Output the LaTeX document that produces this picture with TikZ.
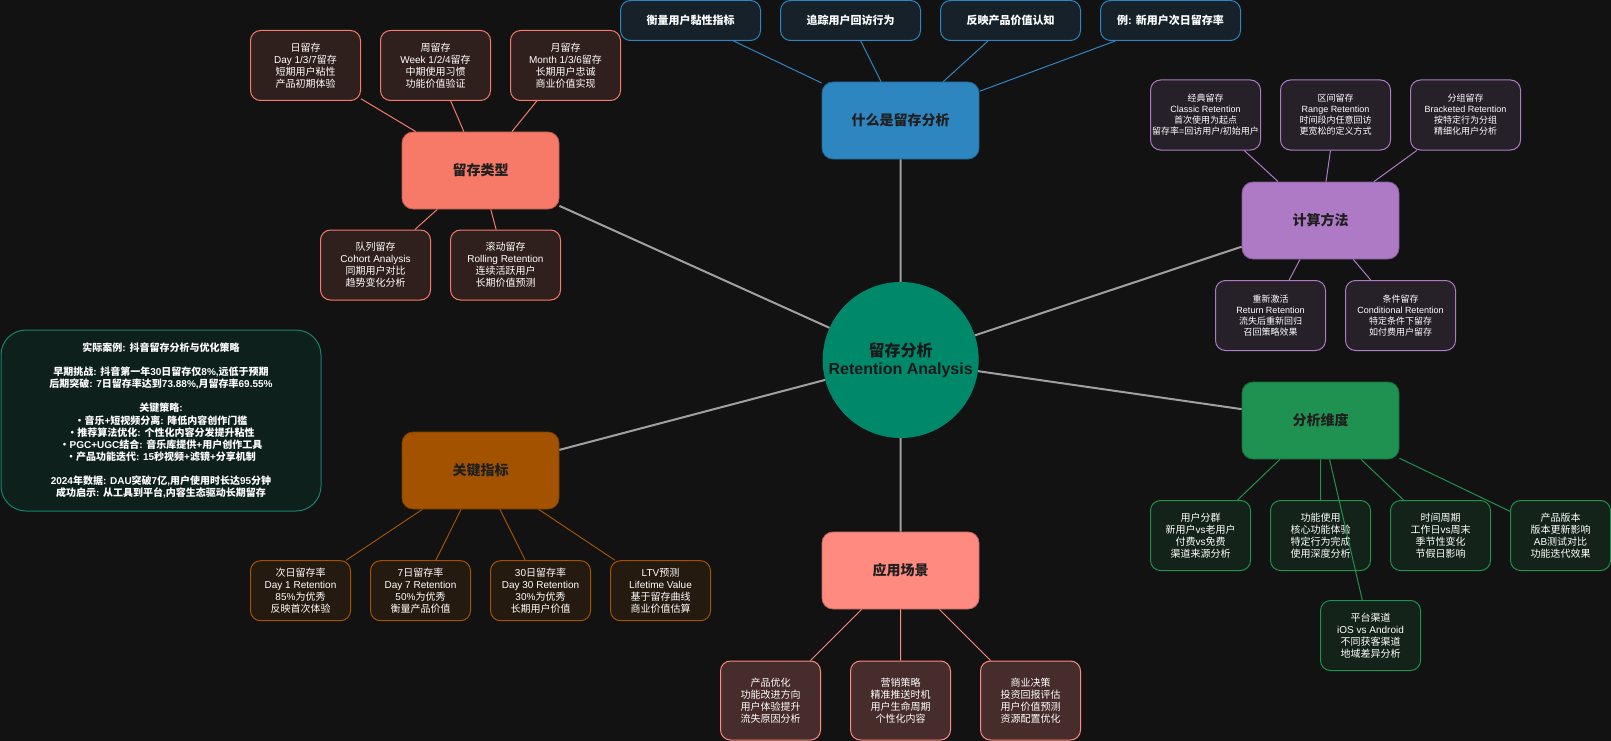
\documentclass[tikz,border=0pt]{standalone}
\usepackage{fontspec}
\setmainfont{Liberation Sans}
\newfontfamily\hanfont{Noto Sans CJK SC}
\XeTeXinterchartokenstate=1
\newXeTeXintercharclass\hanclass
\count255="3000
\loop
  \XeTeXcharclass\count255=\hanclass
  \ifnum\count255<"9FFF \advance\count255 by 1 \repeat
\count255="FF00
\loop
  \XeTeXcharclass\count255=\hanclass
  \ifnum\count255<"FFEF \advance\count255 by 1 \repeat
\XeTeXinterchartoks 0 \hanclass = {\begingroup\hanfont}
\XeTeXinterchartoks 4095 \hanclass = {\begingroup\hanfont}
\XeTeXinterchartoks \hanclass 0 = {\endgroup}
\XeTeXinterchartoks \hanclass 4095 = {\endgroup}
\usepackage{tikz}
\usetikzlibrary{positioning}
\definecolor{canvas}{HTML}{121212}
\definecolor{spokegray}{HTML}{A0A0A0}
\definecolor{rethub}{HTML}{00886B}
\definecolor{rettypes}{HTML}{F77A68}
\definecolor{retwhat}{HTML}{2E86C1}
\definecolor{retcalc}{HTML}{AF7AC5}
\definecolor{retdims}{HTML}{1F9150}
\definecolor{retmetric}{HTML}{A35300}
\definecolor{retapps}{HTML}{FF8A80}
\definecolor{retcase}{HTML}{13846C}
\definecolor{casefill}{HTML}{0E201C}

\begin{document}
\begin{tikzpicture}[
    x=1pt, y=-1pt,
    node distance=19pt,
    hub/.style={circle, fill=rethub, minimum size=156pt, inner sep=0pt, align=center, text=black!90, font=\bfseries\fontsize{16}{18.5}\selectfont},
    topic/.style={rectangle, rounded corners=11pt, fill=#1, draw=#1!75!black, line width=0.8pt, minimum width=157pt, minimum height=77pt, text=black!88, font=\bfseries\fontsize{14}{16}\selectfont},
    leaf/.style={rectangle, rounded corners=10pt, draw=#1, fill=#1!13!canvas, line width=1pt, minimum width=100pt, minimum height=70pt, inner xsep=1pt, align=center, text=white, font=\fontsize{10}{11.9}\selectfont},
    small/.style={font=\fontsize{9}{11}\selectfont},
    casebox/.style={rectangle, rounded corners=25pt, draw=retcase, fill=casefill, line width=1pt, minimum width=320pt, minimum height=181pt, align=center, text=white, font=\bfseries\fontsize{10}{12.1}\selectfont},
    spoke/.style={draw=spokegray, line width=2pt},
    link/.style={draw=#1, line width=1pt}
]
\fill[canvas] (0,0) rectangle (1611,741);
\useasboundingbox (0,0) rectangle (1611,741);

\node[hub] (hub) at (900.7,360) {留存分析\\Retention Analysis};
\node[topic=rettypes] (types) at (480.5,170.5) {留存类型};
\node[topic=retwhat] (what) at (900.5,120.5) {什么是留存分析};
\node[topic=retcalc] (calc) at (1320.5,220.5) {计算方法};
\node[topic=retdims] (dims) at (1320.5,420.5) {分析维度};
\node[topic=retapps] (apps) at (900.5,570.5) {应用场景};
\node[topic=retmetric] (metrics) at (480.5,470.5) {关键指标};

\node[leaf=rettypes, minimum width=110pt] (day) at (305.5,65.5) {日留存\\Day 1/3/7留存\\短期用户粘性\\产品初期体验};
\node[leaf=rettypes, minimum width=110pt, right=of day] (week) {周留存\\Week 1/2/4留存\\中期使用习惯\\功能价值验证};
\node[leaf=rettypes, minimum width=110pt, right=of week] (month) {月留存\\Month 1/3/6留存\\长期用户忠诚\\商业价值实现};
\node[leaf=rettypes, minimum width=110pt] (cohort) at (375.5,265) {队列留存\\Cohort Analysis\\同期用户对比\\趋势变化分析};
\node[leaf=rettypes, minimum width=110pt, right=of cohort] (rolling) {滚动留存\\Rolling Retention\\连续活跃用户\\长期价值预测};

\node[leaf=retwhat, minimum width=140pt, minimum height=40pt, font=\bfseries\fontsize{11}{13}\selectfont] (gauge) at (690.5,20.5) {衡量用户黏性指标};
\node[leaf=retwhat, minimum width=140pt, minimum height=40pt, font=\bfseries\fontsize{11}{13}\selectfont, right=of gauge] (track) {追踪用户回访行为};
\node[leaf=retwhat, minimum width=140pt, minimum height=40pt, font=\bfseries\fontsize{11}{13}\selectfont, right=of track] (reflect) {反映产品价值认知};
\node[leaf=retwhat, minimum width=140pt, minimum height=40pt, font=\bfseries\fontsize{11}{13}\selectfont, right=of reflect] (sample) {例: 新用户次日留存率};

\node[leaf=retcalc, small, minimum width=110pt] (classic) at (1205.5,115) {经典留存\\Classic Retention\\首次使用为起点\\留存率=回访用户/初始用户};
\node[leaf=retcalc, small, minimum width=110pt, right=of classic] (range) {区间留存\\Range Retention\\时间段内任意回访\\更宽松的定义方式};
\node[leaf=retcalc, small, minimum width=110pt, right=of range] (bracket) {分组留存\\Bracketed Retention\\按特定行为分组\\精细化用户分析};
\node[leaf=retcalc, small, minimum width=110pt] (comeback) at (1270.5,315.5) {重新激活\\Return Retention\\流失后重新回归\\召回策略效果};
\node[leaf=retcalc, small, minimum width=110pt, right=of comeback] (cond) {条件留存\\Conditional Retention\\特定条件下留存\\如付费用户留存};

\node[leaf=retdims] (segment) at (1200.5,535.5) {用户分群\\新用户vs老用户\\付费vs免费\\渠道来源分析};
\node[leaf=retdims, right=of segment] (feature) {功能使用\\核心功能体验\\特定行为完成\\使用深度分析};
\node[leaf=retdims, right=of feature] (period) {时间周期\\工作日vs周末\\季节性变化\\节假日影响};
\node[leaf=retdims, right=of period] (version) {产品版本\\版本更新影响\\AB测试对比\\功能迭代效果};
\node[leaf=retdims] (platform) at (1370.5,635.5) {平台渠道\\iOS vs Android\\不同获客渠道\\地域差异分析};

\node[leaf=retmetric, minimum height=60pt] (dayone) at (300.5,590.7) {次日留存率\\Day 1 Retention\\85\%为优秀\\反映首次体验};
\node[leaf=retmetric, minimum height=60pt, right=of dayone] (dayseven) {7日留存率\\Day 7 Retention\\50\%为优秀\\衡量产品价值};
\node[leaf=retmetric, minimum height=60pt, right=of dayseven] (daythirty) {30日留存率\\Day 30 Retention\\30\%为优秀\\长期用户价值};
\node[leaf=retmetric, minimum height=60pt, right=of daythirty] (ltv) {LTV预测\\Lifetime Value\\基于留存曲线\\商业价值估算};

\node[leaf=retapps, fill=retapps!22!canvas, minimum height=79pt] (product) at (770.5,700.5) {产品优化\\功能改进方向\\用户体验提升\\流失原因分析};
\node[leaf=retapps, fill=retapps!22!canvas, minimum height=79pt, right=29pt of product] (marketing) {营销策略\\精准推送时机\\用户生命周期\\个性化内容};
\node[leaf=retapps, fill=retapps!22!canvas, minimum height=79pt, right=29pt of marketing] (business) {商业决策\\投资回报评估\\用户价值预测\\资源配置优化};

\node[casebox] (douyin) at (161,420.5) {实际案例: 抖音留存分析与优化策略\\[12.1pt]
早期挑战: 抖音第一年30日留存仅8\%,远低于预期\\后期突破: 7日留存率达到73.88\%,月留存率69.55\%\\[12.1pt]
关键策略:\\・音乐+短视频分离: 降低内容创作门槛\\・推荐算法优化: 个性化内容分发提升粘性\\・PGC+UGC结合: 音乐库提供+用户创作工具\\・产品功能迭代: 15秒视频+滤镜+分享机制\\[12.1pt]
2024年数据: DAU突破7亿,用户使用时长达95分钟\\成功启示: 从工具到平台,内容生态驱动长期留存};

\draw[spoke] (hub) -- (types) (hub) -- (what) (hub) -- (calc) (hub) -- (dims) (hub) -- (apps) (hub) -- (metrics);
\draw[link=rettypes] (types) -- (day) (types) -- (week) (types) -- (month) (types) -- (cohort) (types) -- (rolling);
\draw[link=retwhat] (what) -- (gauge) (what) -- (track) (what) -- (reflect) (what) -- (sample);
\draw[link=retcalc] (calc) -- (classic) (calc) -- (range) (calc) -- (bracket) (calc) -- (comeback) (calc) -- (cond);
\draw[link=retdims] (dims) -- (segment) (dims) -- (feature) (dims) -- (period) (dims) -- (version) (dims) -- (platform);
\draw[link=retmetric] (metrics) -- (dayone) (metrics) -- (dayseven) (metrics) -- (daythirty) (metrics) -- (ltv);
\draw[link=retapps] (apps) -- (product) (apps) -- (marketing) (apps) -- (business);
\end{tikzpicture}
\end{document}
